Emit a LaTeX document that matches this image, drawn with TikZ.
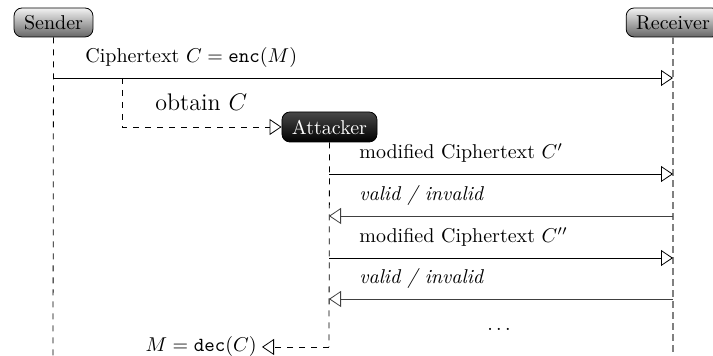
\documentclass[tikz,border=0pt]{standalone}
\usetikzlibrary{arrows.meta}
\begin{document}
\begin{tikzpicture}[x=0.5pt,y=-0.5pt,
  inst/.style={draw=black, rounded corners=4pt, top color=black!5, bottom color=black!60,
    minimum height=14.5pt, inner xsep=5pt, inner ysep=0pt},
  atk/.style={draw=black, rounded corners=4pt, top color=black!72, bottom color=black,
    text=white, minimum height=15pt, inner xsep=5pt, inner ysep=0pt},
  msg/.style={-{Triangle[open,length=6pt,width=8pt]}},
  back/.style={msg, draw=black!75},
  life/.style={dashed},
  rlife/.style={draw=gray, line width=0.7pt, dash pattern=on 3.5pt off 2pt},
  lbl/.style={anchor=base west, inner sep=0pt}]
\useasboundingbox (0,0) rectangle (713,356);

% participants
\node[inst] (S) at (53.5,22.5) {Sender};
\node[inst] (R) at (673,22.5) {Receiver};
\node[atk]  (A) at (329.5,127) {Attacker};

% lifeline ends
\coordinate (sbot) at (53,356);
\coordinate (rbot) at (673,356);
\coordinate (abot) at (329,347);
\draw[life]  (S.south) -- (sbot);
\draw[rlife] (R.south) -- (rbot);
\draw[life]  (A.south) -- (abot);

% Sender -> Receiver
\coordinate (m1a) at (53,78);
\coordinate (m1b) at (673,78);
\draw[msg] (m1a) -- (m1b);
\node[lbl] (l1) at (85,63) {Ciphertext $C = \mathtt{enc}(M)$};

% interception
\coordinate (o1) at (122,78);
\coordinate (o2) at (122,127);
\draw[msg, dashed] (o1) -- (o2) -- (A.west);
\node[lbl, font=\large] (l2) at (155,111) {obtain $C$};

% Attacker <-> Receiver
\coordinate (q1a) at (329,174); \coordinate (q1b) at (673,174);
\coordinate (r1a) at (673,216); \coordinate (r1b) at (329,216);
\coordinate (q2a) at (329,258); \coordinate (q2b) at (673,258);
\coordinate (r2a) at (673,299); \coordinate (r2b) at (329,299);
\draw[msg]  (q1a) -- (q1b);
\draw[back] (r1a) -- (r1b);
\draw[msg]  (q2a) -- (q2b);
\draw[back] (r2a) -- (r2b);
\node[lbl] (l3) at (359,159) {modified Ciphertext $C'$};
\node[lbl] (l4) at (359,201) {\textit{valid / invalid}};
\node[lbl] (l5) at (359,243) {modified Ciphertext $C''$};
\node[lbl] (l6) at (359,284) {\textit{valid / invalid}};
\node[anchor=base, inner sep=0pt] (dots) at (499,331) {$\ldots$};

% decryption
\node[anchor=east, inner xsep=2.5pt, inner ysep=0pt] (D) at (262,347) {$M = \mathtt{dec}(C)$};
\draw[msg, dashed] (abot) -- (D.east);
\end{tikzpicture}
\end{document}
